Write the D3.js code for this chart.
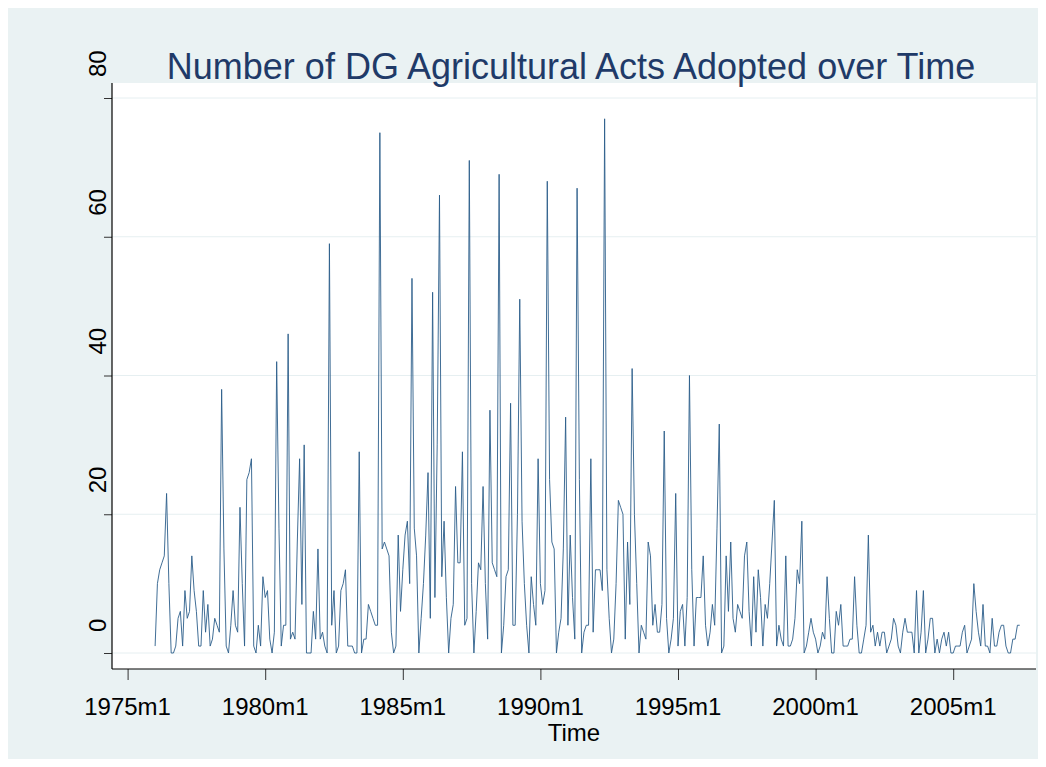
<!DOCTYPE html>
<html><head><meta charset="utf-8">
<script src="https://cdn.jsdelivr.net/npm/d3@7"></script>
<style>body{margin:0;background:#fff}svg{display:block}</style>
</head><body>
<script>
// months counted from 1975m1 (= 0); series starts at 1976m1
const startMonth = 12;
const acts = [
 1,10,12,13,14,23,10,0,0,1,5,6, 1,9,5,6,14,9,6,1,1,9,3,7,
 1,2,5,4,3,38,15,1,0,4,9,4, 3,21,10,1,25,26,28,1,0,4,1,11,
 8,9,2,0,3,42,18,1,4,4,46,2, 3,2,16,28,7,30,0,0,0,6,2,15,
 2,3,1,0,59,4,9,0,1,9,10,12, 1,1,1,0,0,29,0,2,2,7,6,5,
 4,4,75,15,16,15,14,3,0,1,17,6, 12,17,19,10,54,18,14,0,5,10,17,26,
 5,52,8,30,66,11,19,8,0,5,7,24, 13,13,29,4,5,71,10,0,6,13,12,24,
 10,2,35,13,12,11,69,0,4,11,12,36, 4,4,20,51,19,10,4,0,11,7,4,28,
 10,7,9,68,25,16,15,0,3,5,15,34, 4,17,8,2,67,25,0,3,4,4,28,3,
 12,12,12,9,77,12,5,0,2,10,22,21, 20,2,16,7,41,20,10,0,4,3,2,16,
 14,4,7,3,3,7,32,5,0,2,5,23, 1,6,7,1,8,40,12,1,8,8,8,14,
 4,1,3,7,4,18,33,0,1,14,6,16, 5,3,7,6,5,14,16,6,1,11,3,12,
 8,1,7,5,10,16,22,1,4,2,1,14, 1,1,2,5,12,10,19,0,1,3,5,3,
 2,0,1,3,2,11,5,0,0,6,4,7, 1,1,1,2,2,11,4,0,0,2,4,17,
 3,4,1,3,1,3,3,0,1,2,5,4, 1,0,3,5,3,3,3,0,9,0,3,9,
 0,2,5,5,0,2,0,2,3,1,3,0, 0,1,1,1,3,4,0,1,2,10,6,3,
 1,7,1,1,0,5,1,1,3,4,4,1, 0,0,2,2,4,4
];
const xTickMonths = [0,60,120,180,240,300,360];
const xTickLabels = ["1975m1","1980m1","1985m1","1990m1","1995m1","2000m1","2005m1"];
const yTicks = [0,20,40,60,80];
const titleText = "Number of DG Agricultural Acts Adopted over Time";
const xTitle = "Time";

const W = 1046, H = 767;
const svg = d3.select("body").append("svg").attr("width", W).attr("height", H);
svg.append("rect").attr("width", W).attr("height", H).attr("fill", "#fff");
svg.append("rect").attr("x", 8).attr("y", 8).attr("width", 1030).attr("height", 751).attr("fill", "#eaf2f3");

const P = {l: 112, r: 1036, t: 83, b: 669};
svg.append("rect").attr("x", P.l).attr("y", P.t).attr("width", P.r - P.l).attr("height", P.b - P.t).attr("fill", "#fff");

const x = d3.scaleLinear().domain([0, 360]).range([127.6, 953.2]);
const y = d3.scaleLinear().domain([0, 80]).range([653, 98]);

// gridlines
svg.append("g").selectAll("line").data(yTicks).join("line")
  .attr("x1", P.l).attr("x2", P.r)
  .attr("y1", d => y(d)).attr("y2", d => y(d))
  .attr("stroke", "#e6eff1").attr("stroke-width", 1);

// data line
const line = d3.line().x((d, i) => x(startMonth + i)).y(d => y(d));
svg.append("path").datum(acts).attr("d", line)
  .attr("fill", "none").attr("stroke", "#2b5e8a").attr("stroke-width", 0.9)
  .attr("stroke-linejoin", "miter");

// y axis
const yAx = svg.append("g").attr("transform", `translate(${P.l},0)`)
  .call(d3.axisLeft(y).tickValues(yTicks).tickSize(8).tickFormat(""));
yAx.select(".domain").remove();
yAx.selectAll(".tick line").attr("stroke", "#333");
svg.append("line").attr("x1", P.l).attr("x2", P.l).attr("y1", P.t).attr("y2", P.b)
  .attr("stroke", "#000").attr("stroke-width", 1.2);
svg.append("g").selectAll("text").data(yTicks).join("text")
  .attr("transform", d => `translate(106,${y(d) - 21}) rotate(-90)`)
  .attr("text-anchor", "start")
  .attr("font-family", "Liberation Sans, Arial, sans-serif").attr("font-size", 24)
  .attr("fill", "#000").text(d => d);

// x axis
const xAx = svg.append("g").attr("transform", `translate(0,${P.b})`)
  .call(d3.axisBottom(x).tickValues(xTickMonths).tickSize(11).tickFormat(""));
xAx.select(".domain").remove();
xAx.selectAll(".tick line").attr("stroke", "#333");
svg.append("line").attr("x1", P.l).attr("x2", P.r).attr("y1", P.b).attr("y2", P.b)
  .attr("stroke", "#000").attr("stroke-width", 1.2);
svg.append("g").selectAll("text").data(xTickMonths).join("text")
  .attr("x", d => x(d)).attr("y", 715)
  .attr("text-anchor", "middle")
  .attr("font-family", "Liberation Sans, Arial, sans-serif").attr("font-size", 24)
  .attr("fill", "#000").text((d, i) => xTickLabels[i]);

svg.append("text").attr("x", (P.l + P.r) / 2).attr("y", 741)
  .attr("text-anchor", "middle")
  .attr("font-family", "Liberation Sans, Arial, sans-serif").attr("font-size", 24)
  .attr("fill", "#000").text(xTitle);

svg.append("text").attr("x", 571).attr("y", 79)
  .attr("text-anchor", "middle")
  .attr("font-family", "Liberation Sans, Arial, sans-serif").attr("font-size", 36)
  .attr("fill", "#1f3a68").text(titleText);
</script>
</body></html>
